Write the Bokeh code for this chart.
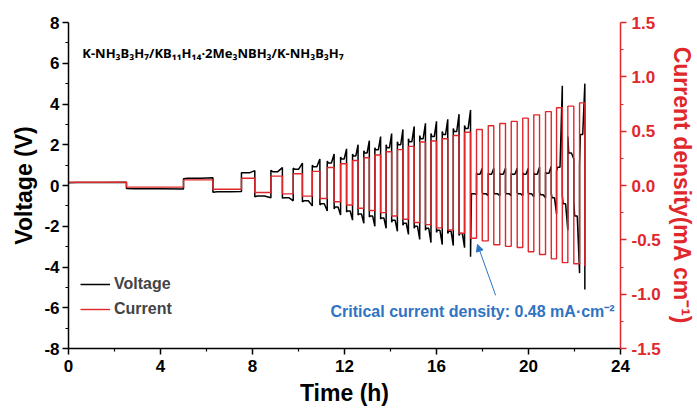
from bokeh.plotting import figure
from bokeh.models import (Range1d, LinearAxis, FixedTicker, NumeralTickFormatter,
                          Legend, LegendItem, Label, Arrow, NormalHead)
from bokeh.embed import file_html
from bokeh.resources import INLINE

# ---------------- data ----------------
# boundaries of the constant-current half cycles (h)
t_edges = [0, 2.52, 5.00, 6.28, 7.52, 8.10, 8.80, 9.30, 9.77, 10.17,
           10.60, 10.93, 11.25, 11.55, 11.83, 12.09, 12.35, 12.59, 12.84, 13.08,
           13.32, 13.57, 13.81, 14.05, 14.30, 14.54, 14.78, 15.03, 15.27, 15.52,
           15.76, 16.00, 16.25, 16.49, 16.73, 16.98, 17.22, 17.48, 17.74, 17.99,
           18.25, 18.49, 18.75, 19.00, 19.25, 19.51, 19.75, 19.99, 20.23, 20.48,
           20.74, 20.99, 21.22, 21.47, 21.71, 21.97, 22.22, 22.45]
# current density of each half cycle (mA cm^-2)
current = [0.030, -0.015, 0.052, -0.034, 0.067, -0.064, 0.086, -0.077, 0.108, -0.098,
           0.130, -0.120, 0.165, -0.150, 0.200, -0.180, 0.230, -0.210, 0.255, -0.230,
           0.280, -0.250, 0.310, -0.280, 0.330, -0.310, 0.360, -0.340, 0.400, -0.360,
           0.410, -0.390, 0.430, -0.410, 0.460, -0.440, 0.490, -0.485, 0.515, -0.510,
           0.550, -0.545, 0.570, -0.560, 0.590, -0.570, 0.620, -0.610, 0.650, -0.635,
           0.680, -0.675, 0.715, -0.710, 0.730, -0.720, 0.760]
current_final = -0.74
# voltage at start / plateau / end of each half cycle (V)
v_start = [0.13, -0.15, 0.33, -0.33, 0.62, -0.55, 0.75, -0.62, 0.85, -0.80,
           1.00, -0.95, 1.20, -1.15, 1.40, -1.30, 1.55, -1.45, 1.70, -1.55,
           1.85, -1.65, 2.00, -1.80, 2.15, -1.95, 2.30, -2.10, 2.45, -2.20,
           2.55, -2.30, 2.65, -2.35, 2.80, -2.45, 2.95, -3.50, 0.60, -0.35,
           0.60, -0.35, 0.60, -0.35, 0.60, -0.35, 0.62, -0.35, 0.62, -0.35,
           0.65, -0.40, 0.70, -0.50, 2.40, -0.80, 1.00]
v_mid = [0.15, -0.16, 0.36, -0.31, 0.62, -0.52, 0.68, -0.60, 0.80, -0.75,
         0.92, -0.90, 1.10, -1.05, 1.30, -1.25, 1.45, -1.40, 1.60, -1.50,
         1.75, -1.60, 1.85, -1.70, 2.00, -1.85, 2.15, -2.00, 2.30, -2.10,
         2.40, -2.20, 2.50, -2.25, 2.65, -2.35, 2.80, -0.40, 0.55, -0.40,
         0.55, -0.40, 0.55, -0.40, 0.55, -0.40, 0.55, -0.40, 0.55, -0.45,
         0.60, -0.60, 0.90, -0.90, 1.60, -1.50, 2.50]
v_end = [0.16, -0.17, 0.38, -0.29, 0.73, -0.60, 0.88, -0.75, 1.10, -1.00,
         1.30, -1.25, 1.55, -1.45, 1.80, -1.70, 2.00, -1.85, 2.20, -2.00,
         2.40, -2.10, 2.55, -2.25, 2.75, -2.40, 2.90, -2.65, 3.05, -2.80,
         3.15, -2.90, 3.25, -2.95, 3.50, -3.05, 3.70, -0.45, 0.85, -0.50,
         0.85, -0.50, 0.85, -0.50, 0.85, -0.50, 0.85, -0.55, 0.90, -0.60,
         0.95, -1.40, 4.90, -2.20, 1.30, -4.30, 5.00]
v_final = -5.10

x_ticks = [0, 4, 8, 12, 16, 20, 24]
x_minor = [2, 6, 10, 14, 18, 22]
v_ticks = [-8, -6, -4, -2, 0, 2, 4, 6, 8]
v_minor = [-7, -5, -3, -1, 1, 3, 5, 7]
i_ticks = [-1.5, -1.0, -0.5, 0.0, 0.5, 1.0, 1.5]
i_minor = [-1.25, -0.75, -0.25, 0.25, 0.75, 1.25]

# ---------------- build traces ----------------
ct, ci = [], []
vt, vv = [], []
for k in range(len(current)):
    t0, t1 = t_edges[k], t_edges[k + 1]
    d = t1 - t0
    ct += [t0, t1]
    ci += [current[k], current[k]]
    vt += [t0, t0 + 0.15 * d, t0 + 0.6 * d, t1]
    vv += [v_start[k], v_mid[k], v_mid[k], v_end[k]]
ct.append(t_edges[-1]); ci.append(current_final)
vt.append(t_edges[-1]); vv.append(v_final)

RED = "#e0282c"
BLUE = "#2f74c2"
FONT = "Liberation Sans"

p = figure(width=697, height=410, output_backend="svg", toolbar_location=None,
           x_range=Range1d(0, 24), y_range=Range1d(-8, 8),
           min_border_left=68, min_border_right=77, min_border_top=22, min_border_bottom=62)
p.outline_line_color = None
p.grid.visible = False
p.background_fill_color = "white"

p.extra_y_ranges = {"cur": Range1d(-1.5, 1.5)}

vr = p.line(vt, vv, line_color="black", line_width=1.5)
cr = p.line(ct, ci, line_color=RED, line_width=1.4, y_range_name="cur")

def style_axis(ax, color="black"):
    ax.axis_line_width = 1.5
    ax.axis_line_color = color
    ax.major_tick_line_color = color
    ax.minor_tick_line_color = color
    ax.major_tick_line_width = 1.5
    ax.minor_tick_line_width = 1.2
    ax.major_tick_in = 0
    ax.major_tick_out = 6
    ax.minor_tick_in = 0
    ax.minor_tick_out = 3
    ax.major_label_text_font = FONT
    ax.major_label_text_font_style = "bold"
    ax.major_label_text_font_size = "17px"
    ax.major_label_text_color = color
    ax.axis_label_text_font = FONT
    ax.axis_label_text_font_style = "bold"
    ax.axis_label_text_font_size = "23px"
    ax.axis_label_text_color = color

xa = p.xaxis[0]
xa.ticker = FixedTicker(ticks=x_ticks, minor_ticks=x_minor)
xa.axis_label = "Time (h)"
style_axis(xa)
xa.major_label_standoff = 5
xa.axis_label_standoff = 5

ya = p.yaxis[0]
ya.ticker = FixedTicker(ticks=v_ticks, minor_ticks=v_minor)
ya.formatter = NumeralTickFormatter(format="0")
ya.axis_label = "Voltage (V)"
style_axis(ya)
ya.major_label_standoff = 3
ya.axis_label_standoff = 4

ra = LinearAxis(y_range_name="cur", ticker=FixedTicker(ticks=i_ticks, minor_ticks=i_minor),
                formatter=NumeralTickFormatter(format="0.0"),
                axis_label="Current density(mA cm⁻¹)")
style_axis(ra, RED)
ra.major_label_standoff = 5
ra.axis_label_standoff = 5
ra.axis_label_text_font_size = "23px"
p.add_layout(ra, "right")

legend = Legend(items=[LegendItem(label="Voltage", renderers=[vr]),
                       LegendItem(label="Current", renderers=[cr])],
                location=(12, 29), padding=0, margin=0, spacing=5,
                glyph_width=30, label_standoff=4,
                label_text_font=FONT, label_text_font_style="bold",
                label_text_font_size="16px",
                background_fill_alpha=0, border_line_alpha=0)
p.add_layout(legend)

title = Label(x=0.6, y=6.5, text="K-NH₃B₃H₇/KB₁₁H₁₄·2Me₃NBH₃/K-NH₃B₃H₇",
              text_font="Noto Sans", text_font_style="bold", text_font_size="13px",
              text_baseline="middle", text_color="black")
p.add_layout(title)

note = Label(x=11.39, y=-6.2, text="Critical current density: 0.48 mA·cm⁻²",
             text_font=FONT, text_font_style="bold", text_font_size="16px",
             text_baseline="middle", text_color=BLUE)
p.add_layout(note)

arrow = Arrow(end=NormalHead(size=7, fill_color=BLUE, line_color=BLUE, line_width=1),
              x_start=18.57, y_start=-5.39, x_end=17.78, y_end=-2.89,
              line_color=BLUE, line_width=1)
p.add_layout(arrow)

open("out.html", "w").write(file_html(p, INLINE))
